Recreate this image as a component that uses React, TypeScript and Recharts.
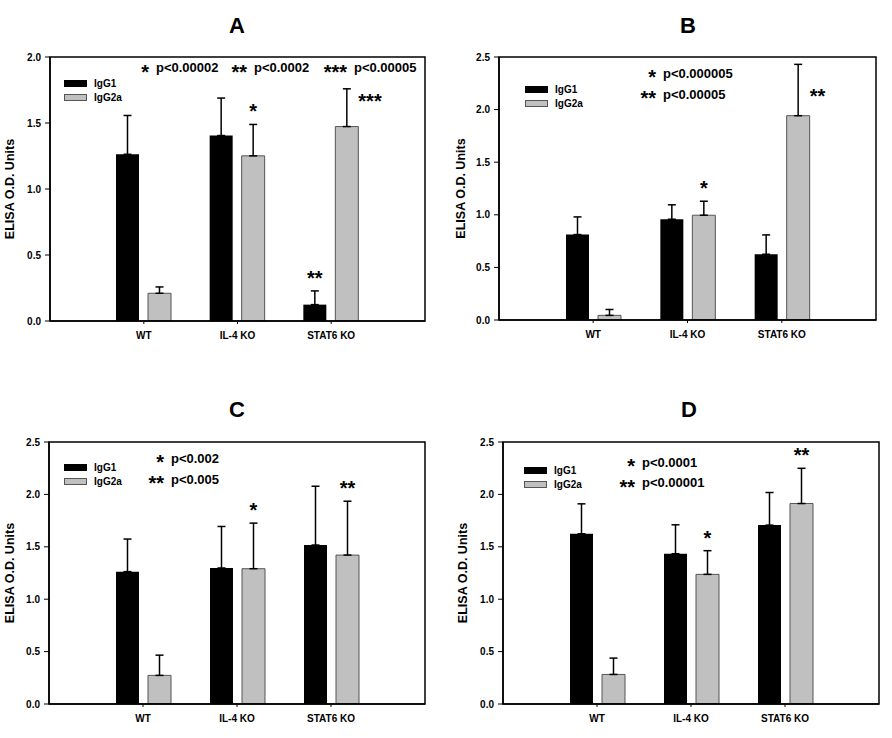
import React from 'react';
import { BarChart, Bar, XAxis, YAxis, ErrorBar, Legend, LabelList } from 'recharts';

const FONT = '"Liberation Sans", Arial, Helvetica, sans-serif';

// shared categories / ticks
const groups = ['WT', 'IL-4 KO', 'STAT6 KO'];
const ticks20 = [0, 0.5, 1.0, 1.5, 2.0];
const ticks25 = [0, 0.5, 1.0, 1.5, 2.0, 2.5];

// panel A
const aIgG1 = [1.263, 1.405, 0.124];
const aIgG1Err = [0.294, 0.284, 0.104];
const aIgG2a = [0.21, 1.251, 1.473];
const aIgG2aErr = [0.048, 0.238, 0.286];
const aStars1 = ['', '', '**'];
const aStars2 = ['', '*', '***'];
const aNotes = [['*', 'p<0.00002'], ['**', 'p<0.0002'], ['***', 'p<0.00005']];

// panel B
const bIgG1 = [0.812, 0.958, 0.625];
const bIgG1Err = [0.168, 0.137, 0.184];
const bIgG2a = [0.044, 0.996, 1.942];
const bIgG2aErr = [0.056, 0.133, 0.488];
const bStars1 = ['', '', ''];
const bStars2 = ['', '*', '**'];
const bNotes = [['*', 'p<0.000005'], ['**', 'p<0.00005']];

// panel C
const cIgG1 = [1.263, 1.298, 1.517];
const cIgG1Err = [0.311, 0.396, 0.561];
const cIgG2a = [0.273, 1.291, 1.421];
const cIgG2aErr = [0.193, 0.435, 0.514];
const cStars1 = ['', '', ''];
const cStars2 = ['', '*', '**'];
const cNotes = [['*', 'p<0.002'], ['**', 'p<0.005']];

// panel D
const dIgG1 = [1.624, 1.434, 1.707];
const dIgG1Err = [0.286, 0.276, 0.311];
const dIgG2a = [0.282, 1.237, 1.913];
const dIgG2aErr = [0.156, 0.226, 0.336];
const dStars1 = ['', '', ''];
const dStars2 = ['', '*', '**'];
const dNotes = [['*', 'p<0.0001'], ['**', 'p<0.00001']];

const W = 446;
const H = 354;
const Y_AXIS_W = 40;
const X_AXIS_H = 24;
const STAR = 20;

const bold = { fontFamily: FONT, fontWeight: 'bold' as const, fill: '#000' };

// stars sit above the error bar, or just right of it for the tall bars
function starLabel(vals: number[], errs: number[], side: number, sideDy: number) {
  return (props: any) => {
    const vb = props.viewBox || {};
    const x = props.x ?? vb.x;
    const y = props.y ?? vb.y;
    const width = props.width ?? vb.width;
    const height = props.height ?? vb.height;
    const i = props.index;
    if (!props.value) return null;
    const top = y - errs[i] * (Math.abs(height) / vals[i]);
    if (i === side) {
      return (
        <text x={x + width} y={top + sideDy + 11} fontSize={STAR} {...bold}>
          {props.value}
        </text>
      );
    }
    return (
      <text x={x + width / 2} y={top - 17 + 11} textAnchor="middle" fontSize={STAR} {...bold}>
        {props.value}
      </text>
    );
  };
}

function KeyBox() {
  const items = [
    ['IgG1', '#000', '#000'],
    ['IgG2a', '#c0c0c0', '#555'],
  ];
  return (
    <div style={{ fontFamily: FONT, fontWeight: 'bold', fontSize: 10, lineHeight: '13.5px' }}>
      {items.map(([name, fill, stroke]) => (
        <div key={name} style={{ display: 'flex', alignItems: 'center', height: 13.5 }}>
          <span
            style={{
              display: 'inline-block',
              width: 23,
              height: 7,
              background: fill,
              border: `1px solid ${stroke}`,
              boxSizing: 'border-box',
              marginRight: 7,
            }}
          />
          {name}
        </div>
      ))}
    </div>
  );
}

function Panel(p: any) {
  const rows = groups.map((g, i) => ({
    group: g,
    igg1: p.igg1[i],
    igg1Err: [0, p.igg1Err[i]],
    igg2a: p.igg2a[i],
    igg2aErr: [0, p.igg2aErr[i]],
    s1: p.stars1[i],
    s2: p.stars2[i],
  }));
  const m = p.margin;
  const boxX = m.left + Y_AXIS_W;
  const boxW = W - boxX - m.right;
  const boxH = H - m.top - m.bottom - X_AXIS_H;
  const axisLine = { stroke: '#000', strokeWidth: 1.5 };
  return (
    <div style={{ position: 'absolute', left: p.left, top: p.top, width: W, height: H }}>
      <BarChart width={W} height={H} data={rows} margin={m} barSize={23} barGap={9}>
        <XAxis
          dataKey="group"
          padding={{ left: 47, right: 47 }}
          axisLine={axisLine}
          tickLine={{ stroke: '#000' }}
          tickSize={3}
          tickMargin={8}
          height={X_AXIS_H}
          interval={0}
          tick={{ fontSize: 10, ...bold }}
        />
        <YAxis
          domain={[0, p.yMax]}
          ticks={p.ticks}
          tickFormatter={(v: number) => v.toFixed(1)}
          width={Y_AXIS_W}
          tickSize={5}
          tickMargin={4}
          axisLine={axisLine}
          tickLine={{ stroke: '#000' }}
          tick={{ fontSize: 10, ...bold }}
          allowDataOverflow
        />
        <Legend
          layout="vertical"
          align="center"
          verticalAlign="middle"
          content={<KeyBox />}
          wrapperStyle={{ left: p.legend[0], top: p.legend[1], width: 'auto' }}
        />
        <Bar dataKey="igg1" name="IgG1" fill="#000" isAnimationActive={false}>
          <ErrorBar dataKey="igg1Err" direction="y" width={4} stroke="#000" strokeWidth={1.5} />
          <LabelList dataKey="s1" content={starLabel(p.igg1, p.igg1Err, -1, 0)} />
        </Bar>
        <Bar
          dataKey="igg2a"
          name="IgG2a"
          fill="#c0c0c0"
          stroke="#555"
          strokeWidth={1}
          isAnimationActive={false}
        >
          <ErrorBar dataKey="igg2aErr" direction="y" width={4} stroke="#000" strokeWidth={1.5} />
          <LabelList dataKey="s2" content={starLabel(p.igg2a, p.igg2aErr, p.side, p.sideDy)} />
        </Bar>
      </BarChart>
      <svg
        width={W}
        height={H}
        style={{ position: 'absolute', left: 0, top: 0, pointerEvents: 'none' }}
      >
        {/* frame around the plot area */}
        <rect x={boxX} y={m.top} width={boxW} height={boxH} fill="none" stroke="#000" strokeWidth={1.5} />
        <text x={p.titleX} y={33} textAnchor="middle" fontSize={22} {...bold}>
          {p.title}
        </text>
        <text
          x={p.labelX}
          y={p.labelY}
          textAnchor="middle"
          dominantBaseline="central"
          transform={`rotate(-90 ${p.labelX} ${p.labelY})`}
          fontSize={12.5}
          {...bold}
        >
          ELISA O.D. Units
        </text>
        {p.notes.map(([s, t]: string[], i: number) => (
          <g key={i}>
            <text x={p.notePos[i][0] - 7} y={p.notePos[i][1] + 11} textAnchor="end" fontSize={STAR} {...bold}>
              {s}
            </text>
            <text x={p.notePos[i][0]} y={p.notePos[i][1] + 4.7} fontSize={13} {...bold}>
              {t}
            </text>
          </g>
        ))}
      </svg>
    </div>
  );
}

export default function App() {
  return (
    <div
      style={{
        position: 'absolute',
        left: 0,
        top: 0,
        width: 892,
        height: 738,
        background: '#fff',
        overflow: 'hidden',
      }}
    >
      <Panel
        title="A"
        left={0}
        top={0}
        margin={{ top: 57, left: 10, right: 21, bottom: 9 }}
        yMax={2}
        ticks={ticks20}
        igg1={aIgG1}
        igg1Err={aIgG1Err}
        igg2a={aIgG2a}
        igg2aErr={aIgG2aErr}
        stars1={aStars1}
        stars2={aStars2}
        side={2}
        sideDy={8}
        notes={aNotes}
        notePos={[[156, 67.7], [254, 67.7], [354, 67.7]]}
        legend={[64, 77]}
        titleX={237}
        labelX={10}
        labelY={189}
      />
      <Panel
        title="B"
        left={446}
        top={0}
        margin={{ top: 57, left: 13, right: 16, bottom: 10 }}
        yMax={2.5}
        ticks={ticks25}
        igg1={bIgG1}
        igg1Err={bIgG1Err}
        igg2a={bIgG2a}
        igg2aErr={bIgG2aErr}
        stars1={bStars1}
        stars2={bStars2}
        side={2}
        sideDy={28}
        notes={bNotes}
        notePos={[[217, 73.3], [217, 94.3]]}
        legend={[79, 83]}
        titleX={242}
        labelX={15}
        labelY={188.5}
      />
      <Panel
        title="C"
        left={0}
        top={384}
        margin={{ top: 58, left: 9, right: 21, bottom: 10 }}
        yMax={2.5}
        ticks={ticks25}
        igg1={cIgG1}
        igg1Err={cIgG1Err}
        igg2a={cIgG2a}
        igg2aErr={cIgG2aErr}
        stars1={cStars1}
        stars2={cStars2}
        side={-1}
        sideDy={0}
        notes={cNotes}
        notePos={[[171, 74.3], [171, 95.3]]}
        legend={[64, 77]}
        titleX={237}
        labelX={10}
        labelY={189}
      />
      <Panel
        title="D"
        left={446}
        top={384}
        margin={{ top: 58, left: 17, right: 13, bottom: 10 }}
        yMax={2.5}
        ticks={ticks25}
        igg1={dIgG1}
        igg1Err={dIgG1Err}
        igg2a={dIgG2a}
        igg2aErr={dIgG2aErr}
        stars1={dStars1}
        stars2={dStars2}
        side={-1}
        sideDy={0}
        notes={dNotes}
        notePos={[[196, 78.3], [196, 98.7]]}
        legend={[78, 80]}
        titleX={243}
        labelX={17}
        labelY={189}
      />
    </div>
  );
}
